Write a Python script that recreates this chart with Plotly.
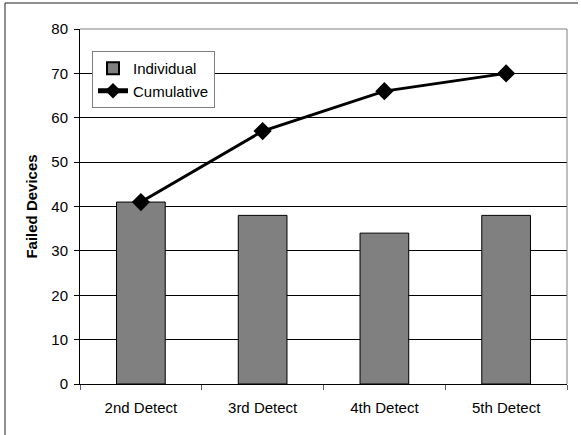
import plotly.graph_objects as go

categories = ["2nd Detect", "3rd Detect", "4th Detect", "5th Detect"]
individual = [41, 38, 34, 38]
cumulative = [41, 57, 66, 70]
y_ticks = [0, 10, 20, 30, 40, 50, 60, 70, 80]

W, H = 581, 435
L, R, T, B = 80, 14, 29, 51
pw, ph = W - L - R, H - T - B


def px_x(x):
    return (x - L) / pw


def px_y(y):
    return (H - B - y) / ph


font = dict(family="Arial, Liberation Sans, sans-serif", size=15, color="black")

fig = go.Figure()
fig.add_trace(go.Bar(
    x=categories, y=individual, name="Individual",
    marker=dict(color="#808080", line=dict(color="black", width=1)),
))
fig.add_trace(go.Scatter(
    x=categories, y=cumulative, name="Cumulative", mode="lines+markers",
    line=dict(color="black", width=3),
    marker=dict(symbol="diamond", size=14, color="black"),
))

shapes = [
    # plot-area frame on top and right
    dict(type="line", xref="paper", yref="paper", x0=0, x1=1, y0=1, y1=1,
         line=dict(color="#808080", width=1), layer="above"),
    dict(type="line", xref="paper", yref="paper", x0=1, x1=1, y0=0, y1=1,
         line=dict(color="#808080", width=1), layer="above"),
    # outer chart border
    dict(type="line", xref="paper", yref="paper", x0=px_x(5), x1=px_x(5),
         y0=px_y(3), y1=px_y(440), line=dict(color="#202020", width=1)),
    dict(type="line", xref="paper", yref="paper", x0=px_x(5), x1=px_x(578),
         y0=px_y(3), y1=px_y(3), line=dict(color="#202020", width=1)),
]

fig.update_layout(
    width=W, height=H,
    margin=dict(l=L, r=R, t=T, b=B, pad=0),
    paper_bgcolor="white", plot_bgcolor="white",
    font=font,
    bargap=0.6,
    showlegend=True,
    legend=dict(
        x=px_x(92), y=px_y(51), xanchor="left", yanchor="top",
        bgcolor="white", bordercolor="#808080", borderwidth=1,
        font=font, tracegroupgap=0, itemsizing="constant",
    ),
    shapes=shapes,
    xaxis=dict(
        showline=True, linecolor="black", linewidth=1,
        ticks="outside", tickson="boundaries", ticklen=5, tickcolor="#606060",
        showgrid=False, tickfont=font, ticklabelstandoff=10,
    ),
    yaxis=dict(
        range=[0, 80], tickvals=y_ticks,
        showline=True, linecolor="black", linewidth=1,
        ticks="outside", ticklen=5, tickcolor="black",
        showgrid=True, gridcolor="black", gridwidth=1,
        zeroline=False, tickfont=font, ticklabelstandoff=3,
        title=dict(text="<b>Failed Devices</b>", font=font, standoff=10),
    ),
)

fig.write_html("out.html")
